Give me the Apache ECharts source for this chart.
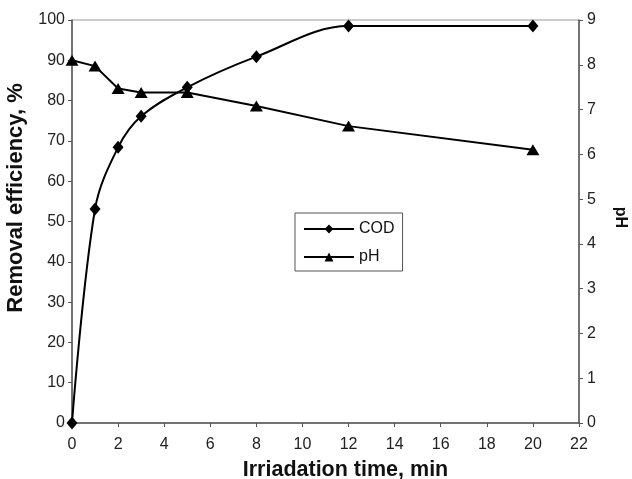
<!DOCTYPE html>
<html><head><meta charset="utf-8">
<script src="https://cdn.jsdelivr.net/npm/echarts@6/dist/echarts.min.js"></script>
<style>html,body{margin:0;padding:0;background:#fff}#c{width:632px;height:479px}</style>
</head><body><div id="c"></div>
<script>
var times = [0, 1, 2, 3, 5, 8, 12, 20];
var codValues = [0, 53.1, 68.4, 76.1, 83.3, 90.9, 98.5, 98.5];
var phValues = [8.1, 7.97, 7.47, 7.38, 7.38, 7.08, 6.63, 6.1];
var xTicks = {min: 0, max: 22, interval: 2};
var leftTicks = {min: 0, max: 100, interval: 10};
var rightTicks = {min: 0, max: 9, interval: 1};

function pairs(xs, ys){ return xs.map(function(x,i){ return [x, ys[i]]; }); }

var chart = echarts.init(document.getElementById('c'));
var axisCol = '#555';
var FF = 'Liberation Sans, Arial, sans-serif';
var labelStyle = {color: '#222', fontSize: 16, fontFamily: FF};
chart.setOption({
  animation: false,
  backgroundColor: '#fff',
  grid: {left: 72, right: 53, top: 20, bottom: 56, show: true, borderColor: '#999', borderWidth: 1,
         containLabel: false, outerBoundsMode: 'none'},
  legend: {
    orient: 'vertical', left: 295, top: 213,
    borderColor: '#555', borderWidth: 1, padding: [8, 8, 6, 8],
    itemWidth: 50, itemHeight: 11, itemGap: 12,
    textStyle: {color: '#111', fontSize: 16, fontFamily: FF, padding: [0, 26, 0, 0]},
    data: ['COD', 'pH']
  },
  xAxis: {
    type: 'value', min: xTicks.min, max: xTicks.max, interval: xTicks.interval,
    name: 'Irriadation time, min', nameLocation: 'middle', nameGap: 36,
    nameTextStyle: {color: '#111', fontSize: 21.5, fontWeight: 'bold', fontFamily: FF, padding: [0, 0, 0, 40]},
    axisLine: {lineStyle: {color: axisCol, width: 1.5}},
    axisTick: {show: true, length: 4, lineStyle: {color: axisCol}},
    axisLabel: Object.assign({margin: 14}, labelStyle),
    splitLine: {show: false}
  },
  yAxis: [{
    type: 'value', min: leftTicks.min, max: leftTicks.max, interval: leftTicks.interval,
    name: 'Removal efficiency, %', nameLocation: 'middle', nameGap: 41,
    nameTextStyle: {color: '#111', fontSize: 22, fontWeight: 'bold', fontFamily: FF, padding: [0, 0, 0, 47]},
    axisLine: {show: true, lineStyle: {color: axisCol, width: 1.5}},
    axisTick: {show: true, length: 4, lineStyle: {color: axisCol}},
    axisLabel: Object.assign({margin: 7}, labelStyle),
    splitLine: {show: false}
  }, {
    type: 'value', position: 'right', min: rightTicks.min, max: rightTicks.max, interval: rightTicks.interval,
    name: 'pH', nameLocation: 'middle', nameGap: 33, nameRotate: -90,
    nameTextStyle: {color: '#111', fontSize: 16, fontWeight: 'bold', fontFamily: FF, padding: [0, 8, 0, 0]},
    axisLine: {show: true, lineStyle: {color: axisCol, width: 1.5}},
    axisTick: {show: true, length: 4, lineStyle: {color: axisCol}},
    axisLabel: Object.assign({margin: 8}, labelStyle),
    splitLine: {show: false}
  }],
  series: [{
    name: 'COD', type: 'line', yAxisIndex: 0, data: pairs(times, codValues),
    smooth: 0.35, symbol: 'diamond', symbolSize: [11, 13],
    lineStyle: {color: '#000', width: 2}, itemStyle: {color: '#000'}
  }, {
    name: 'pH', type: 'line', yAxisIndex: 1, data: pairs(times, phValues),
    smooth: false, symbol: 'triangle', symbolSize: [13, 11],
    lineStyle: {color: '#000', width: 2}, itemStyle: {color: '#000'}
  }]
});
</script></body></html>
